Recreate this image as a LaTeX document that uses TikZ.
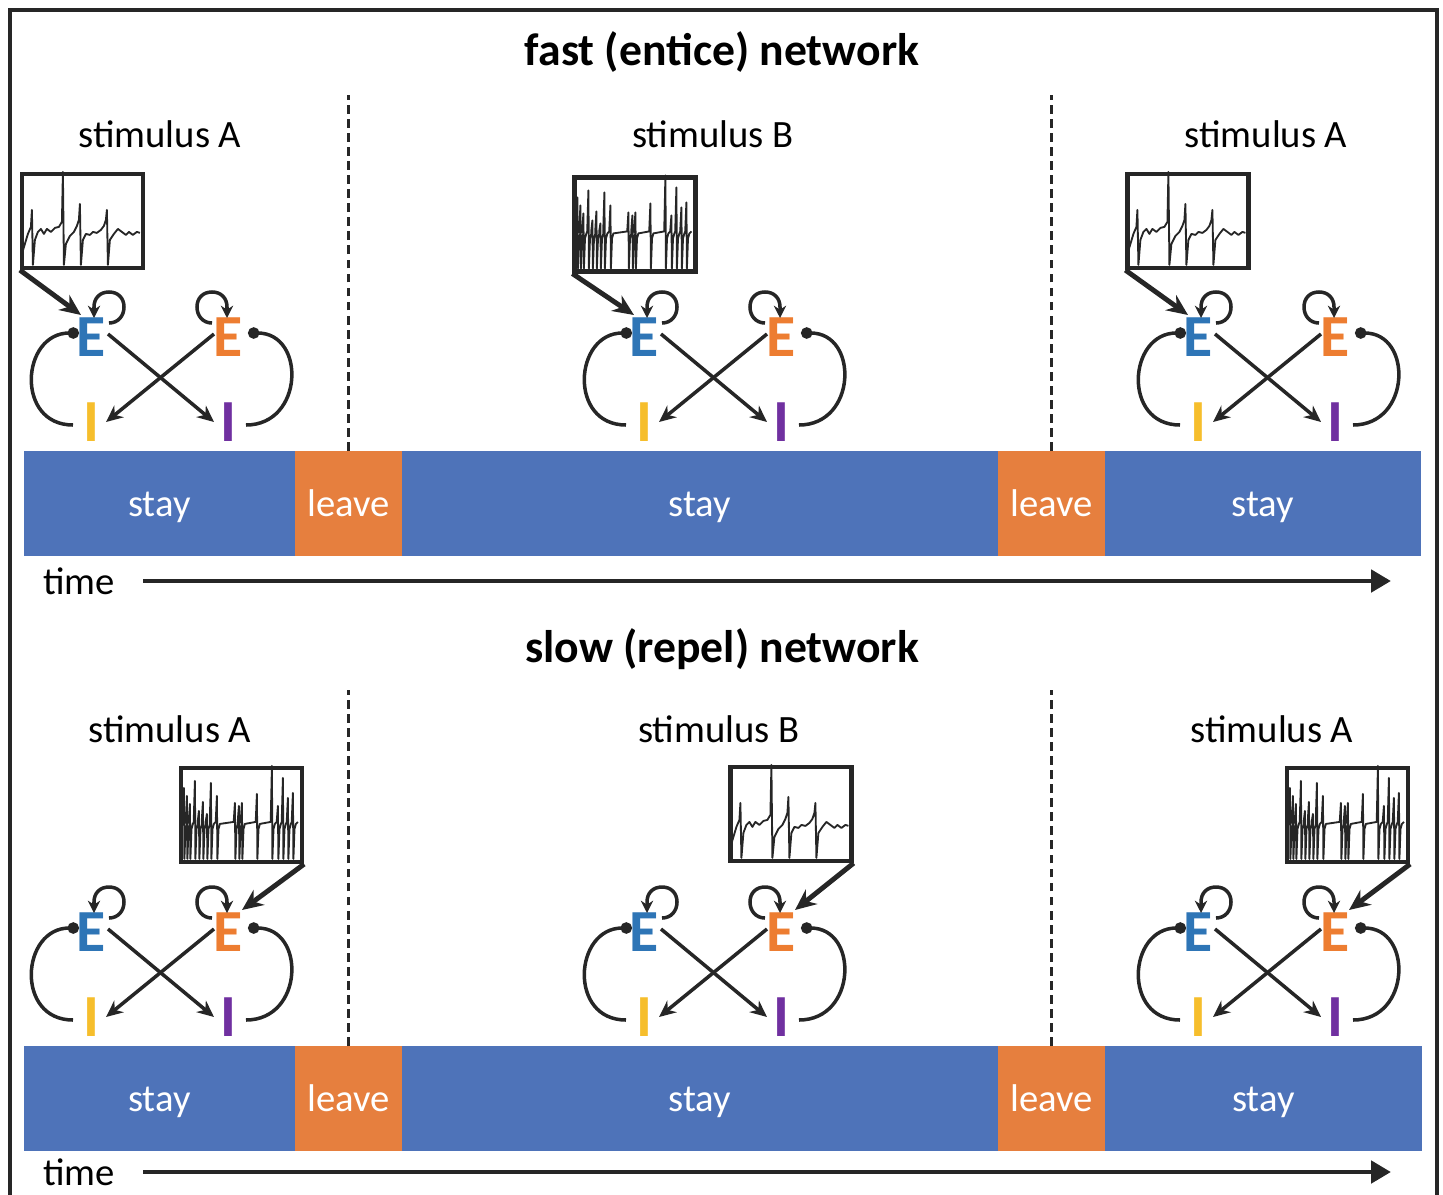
\documentclass[tikz,border=0pt]{standalone}
\usepackage{fontspec}
\setmainfont{Carlito}
\usetikzlibrary{arrows.meta}
\definecolor{barblue}{HTML}{4E73B9}
\definecolor{barorange}{HTML}{E67F3E}
\definecolor{eblue}{HTML}{2E75B6}
\definecolor{eorange}{HTML}{ED7D31}
\definecolor{iyellow}{HTML}{F6BE2C}
\definecolor{ipurple}{HTML}{7030A0}
\definecolor{ink}{HTML}{262626}
\tikzstyle{paneltitle}=[inner sep=0pt, font=\fontsize{26}{30}\selectfont\bfseries]
\tikzstyle{stimtext}=[inner sep=0pt, font=\fontsize{22}{26}\selectfont]
\tikzstyle{seg}=[inner sep=0pt, outer sep=0pt, minimum height=2.1cm, text=white,
  text height=17pt, text depth=2.2pt, font=\fontsize{22}{26}\selectfont]
\tikzstyle{ecell}=[inner sep=0pt, font=\fontsize{34}{34}\selectfont\bfseries]
\tikzstyle{exc}=[ink, line width=2pt, -{Stealth[length=9.5pt,width=8.5pt]}]
\tikzstyle{selfloop}=[ink, line width=2pt, -{Stealth[length=7pt,width=7pt]}]
\tikzstyle{inh}=[ink, line width=2pt, -{Circle[length=6.5pt]}]
\tikzstyle{inarr}=[ink, line width=2.8pt, -{Stealth[length=12pt,width=10.5pt]}]
\tikzstyle{tracebox}=[draw=ink, line width=2.4pt, minimum width=2.42cm,
  minimum height=1.88cm, inner sep=0pt]
\tikzstyle{trace}=[ink, line width=1.05pt, line join=round]
\tikzstyle{divider}=[ink, line width=1.5pt, dash pattern=on 5pt off 3pt]
\tikzstyle{timearr}=[ink, line width=2.8pt, -{Triangle[length=0.4cm,width=0.44cm]}]

% one E/I motif, #1 name prefix, #2 x and #3 y of the blue E
\newcommand{\motif}[3]{%
  \node[ecell, text=eblue] (#1eb) at (#2,#3) {E};
  \node[ecell, text=eorange] (#1eo) at (#2+137,#3) {E};
  \node[ecell, text=iyellow] (#1iy) at (#2,#3+85) {I};
  \node[ecell, text=ipurple] (#1ip) at (#2+137,#3+85) {I};
  \draw[selfloop] ([shift={(18,-14)}]#1eb.center) .. controls +(9,0) and +(0,9) .. ++(15,-16)
    .. controls +(0,-9) and +(9,0) .. ++(-15,-15) .. controls +(-9,0) and +(0,-9) .. ++(-15,15) -- ++(0,11);
  \draw[selfloop] ([shift={(-16,-14)}]#1eo.center) .. controls +(-9,0) and +(0,9) .. ++(-15,-16)
    .. controls +(0,-9) and +(-9,0) .. ++(15,-15) .. controls +(9,0) and +(0,-9) .. ++(15,15) -- ++(0,11);
  \draw[inh] ([shift={(-18,3)}]#1iy.center) .. controls +(-58,0) and +(-58,0) .. ([shift={(-12,-4)}]#1eb.center);
  \draw[inh] ([shift={(18,3)}]#1ip.center) .. controls +(58,0) and +(58,0) .. ([shift={(20,-4)}]#1eo.center);
  \draw[exc] ([shift={(17,-3)}]#1eb.center) -- ([shift={(-14,0)}]#1ip.center);
  \draw[exc] ([shift={(-14,-3)}]#1eo.center) -- ([shift={(15,0)}]#1iy.center);
}
% few spikes
\newcommand{\slowtrace}[1]{%
  \draw[trace, shift={(#1.north west)}] (2,82) -- (8,62) -- (11,55) -- (12,38) -- (13,93) -- (15,68)
    -- (18,60) -- (21,57) -- (24,62) -- (27,57) -- (31,60) -- (35,56) -- (39,55) -- (42,50) -- (43,0)
    -- (44,93) -- (46,72) -- (50,64) -- (54,60) -- (57,54) -- (59,48) -- (60,32) -- (61,93) -- (63,68)
    -- (66,62) -- (70,63) -- (73,60) -- (77,61) -- (81,58) -- (84,54) -- (86,48) -- (87,38) -- (88,93)
    -- (90,68) -- (94,62) -- (98,57) -- (102,60) -- (106,63) -- (109,60) -- (113,63) -- (117,60) -- (120,61);
}
% many spikes
\newcommand{\fasttrace}[1]{%
  \draw[trace, shift={(#1.north west)}] (2,86) -- (3,60)
    \foreach \x/\t in {5/22, 8/30, 11/38, 16/15, 20/45, 24/36, 28/48, 32/17, 38/30, 56/37, 60/40,
      63/37, 78/28, 93/0, 99/40, 104/12, 109/32, 114/27}
      { -- (\x-1.2,56) -- (\x,\t) -- (\x+0.5,93) -- (\x+1.6,63) -- (\x+3,58) }
    -- (119,56);
}

\begin{document}
\begin{tikzpicture}[x=0.02cm, y=-0.02cm]
\useasboundingbox (0,0) rectangle (1443,1194);
\draw[ink, line width=2.3pt] (10,1230) -- (10,10) -- (1437,10) -- (1437,1230);

% fast (entice) network
\node[paneltitle] (ftitle) at (722,52) {fast (entice) network};
\node[stimtext] (fstima) at (160,134) {stimulus A};
\node[stimtext] (fstimb) at (713,134) {stimulus B};
\node[stimtext] (fstimc) at (1266,134) {stimulus A};
\foreach \a/\b/\c/\t [count=\k] in {24/295/barblue/stay, 295/402/barorange/leave,
    402/998/barblue/stay, 998/1105/barorange/leave, 1105/1421/barblue/stay}
  \node[seg, fill=\c, minimum width={(\b-\a)*0.02cm}] (fseg\k) at ({(\a+\b)/2},503.5) {\t};
\coordinate (fdiva) at (348.5,95);
\coordinate (fdivb) at (1051.5,95);
\draw[divider] (fseg2.north) -- (fdiva);
\draw[divider] (fseg4.north) -- (fdivb);
\motif{fa}{91}{337}
\motif{fb}{644}{337}
\motif{fc}{1198}{337}
\node[tracebox] (fboxa) at (82.5,221) {};
\node[tracebox] (fboxb) at (635,224.5) {};
\node[tracebox] (fboxc) at (1188,221) {};
\slowtrace{fboxa}
\fasttrace{fboxb}
\slowtrace{fboxc}
\draw[inarr] (fboxa.south west) -- ([shift={(-10,-22)}]faeb.center);
\draw[inarr] (fboxb.south west) -- ([shift={(-10,-22)}]fbeb.center);
\draw[inarr] (fboxc.south west) -- ([shift={(-10,-22)}]fceb.center);
\node[stimtext] (ftime) at (79,581) {time};
\coordinate (ftend) at (1391,581);
\draw[timearr] ([xshift=0.56cm]ftime.east) -- (ftend);

% slow (repel) network
\node[paneltitle] (stitle) at (722,649) {slow (repel) network};
\node[stimtext] (sstima) at (170,729) {stimulus A};
\node[stimtext] (sstimb) at (719,729) {stimulus B};
\node[stimtext] (sstimc) at (1272,729) {stimulus A};
\foreach \a/\b/\c/\t [count=\k] in {24/295/barblue/stay, 295/402/barorange/leave,
    402/998/barblue/stay, 998/1105/barorange/leave, 1105/1422/barblue/stay}
  \node[seg, fill=\c, minimum width={(\b-\a)*0.02cm}] (sseg\k) at ({(\a+\b)/2},1098.5) {\t};
\coordinate (sdiva) at (348.5,690);
\coordinate (sdivb) at (1051.5,690);
\draw[divider] (sseg2.north) -- (sdiva);
\draw[divider] (sseg4.north) -- (sdivb);
\motif{sa}{91}{932}
\motif{sb}{644}{932}
\motif{sc}{1198}{932}
\node[tracebox] (sboxa) at (241.5,815) {};
\node[tracebox] (sboxb) at (791,814) {};
\node[tracebox] (sboxc) at (1347.5,815) {};
\fasttrace{sboxa}
\slowtrace{sboxb}
\fasttrace{sboxc}
\draw[inarr] (sboxa.south east) -- ([shift={(14,-22)}]saeo.center);
\draw[inarr] (sboxb.south east) -- ([shift={(14,-22)}]sbeo.center);
\draw[inarr] (sboxc.south east) -- ([shift={(14,-22)}]sceo.center);
\node[stimtext] (stime) at (79,1172) {time};
\coordinate (stend) at (1391,1172);
\draw[timearr] ([xshift=0.56cm]stime.east) -- (stend);
\end{tikzpicture}
\end{document}
